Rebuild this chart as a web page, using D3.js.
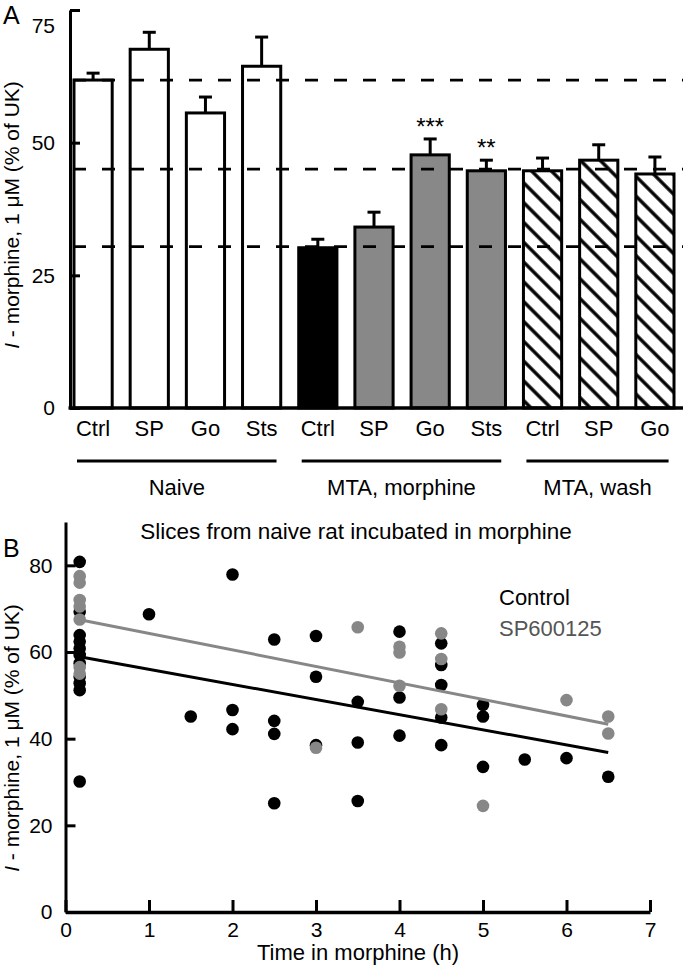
<!DOCTYPE html>
<html><head><meta charset="utf-8">
<script src="https://cdn.jsdelivr.net/npm/d3@7"></script>
<style>
body{margin:0;background:#fff;}
text{font-family:"Liberation Sans",Arial,Helvetica,sans-serif;fill:#000;}
</style>
</head><body>
<svg id="c" width="690" height="969" xmlns="http://www.w3.org/2000/svg"></svg>
<script>
// ---------- Panel A data ----------
const barLabels = ["Ctrl","SP","Go","Sts","Ctrl","SP","Go","Sts","Ctrl","SP","Go"];
const barValues = [61.8,67.6,55.6,64.4,30.2,34.1,47.7,44.7,44.7,46.7,44.1];
const barErrors = [1.3,3.2,3.0,5.5,1.6,2.8,3.0,2.0,2.4,2.9,3.2];
const barFills  = ["white","white","white","white","black","gray","gray","gray","hatch","hatch","hatch"];
const significance = ["","","","","","","***","**","","",""];
const groupNames = ["Naive","MTA, morphine","MTA, wash"];
const groupFirst = [0,4,8];
const groupLast  = [3,7,10];
const refLevels = [61.8,45.0,30.4];
const yTicksA = [0,25,50,75];

// ---------- Panel B data ----------
const controlT = [0.17,0.17,0.17,0.17,0.17,0.17,0.17,0.17,0.17,0.17,0.17,
  1,1.5,2,2,2,2.5,2.5,2.5,2.5,3,3,3,3.5,3.5,3.5,4,4,4,4.5,4.5,4.5,4.5,4.5,5,5,5,5.5,6,6.5];
const controlV = [80.8,69.3,63.9,62.4,60.8,59.3,57.4,54.3,52.8,51.2,30.1,
  68.7,45.1,77.9,46.6,42.2,62.9,44.1,41.1,25.1,63.7,54.3,38.5,48.5,39.1,25.6,64.7,49.5,40.7,62.0,57.0,52.4,44.9,38.5,47.8,45.1,33.5,35.2,35.5,31.2];
const spT = [0.17,0.17,0.17,0.17,0.17,0.17,0.17,3,3.5,4,4,4,4.5,4.5,4.5,5,6,6.5,6.5];
const spV = [77.5,76.0,72.0,70.5,67.5,56.5,55.0,37.9,65.7,61.2,59.9,52.2,64.3,58.4,46.8,24.5,48.9,45.1,41.2];
// fitted regression lines (intercept, slope)
const controlFit = [59.5,-3.49];
const spFit = [68.1,-3.81];
const fitRange = [0.17,6.5];
const xTicksB = [0,1,2,3,4,5,6,7];
const yTicksB = [0,20,40,60,80];

const GRAY = "#878787";
const svg = d3.select("#c");

// hatch pattern
const defs = svg.append("defs");
const pat = defs.append("pattern").attr("id","hatch").attr("patternUnits","userSpaceOnUse")
  .attr("width",14).attr("height",14).attr("patternTransform","rotate(-45)");
pat.append("rect").attr("width",14).attr("height",14).attr("fill","white");
pat.append("line").attr("x1",3).attr("y1",-2).attr("x2",3).attr("y2",16).attr("stroke","black").attr("stroke-width",3.4);

function fillOf(f){ return f==="hatch" ? "url(#hatch)" : f==="gray" ? "#888" : f; }

// ================= Panel A =================
const xA = d3.scaleBand().domain(d3.range(barValues.length)).range([65,683]).paddingInner(0.32).paddingOuter(0.16);
const yA = d3.scaleLinear().domain([0,75]).range([408,10]);
const gA = svg.append("g");

// error bars
gA.selectAll(".err").data(barValues).enter().append("g").each(function(v,i){
  const cx = xA(i)+xA.bandwidth()/2, g=d3.select(this);
  g.append("line").attr("x1",cx).attr("x2",cx).attr("y1",yA(v)).attr("y2",yA(v+barErrors[i])).attr("stroke","#000").attr("stroke-width",3);
  g.append("line").attr("x1",cx-6.5).attr("x2",cx+6.5).attr("y1",yA(v+barErrors[i])).attr("y2",yA(v+barErrors[i])).attr("stroke","#000").attr("stroke-width",3);
});
// bars
gA.selectAll(".bar").data(barValues).enter().append("rect")
  .attr("x",(d,i)=>xA(i)).attr("width",xA.bandwidth())
  .attr("y",d=>yA(d)).attr("height",d=>yA(0)-yA(d))
  .attr("fill",(d,i)=>fillOf(barFills[i])).attr("stroke","#000").attr("stroke-width",3);
// reference dashed lines
gA.selectAll(".ref").data(refLevels).enter().append("line")
  .attr("x1",73).attr("x2",683).attr("y1",d=>yA(d)).attr("y2",d=>yA(d))
  .attr("stroke","#000").attr("stroke-width",2.8).attr("stroke-dasharray","13,16");
// significance
gA.selectAll(".sig").data(barValues).enter().append("text")
  .attr("x",(d,i)=>xA(i)+xA.bandwidth()/2).attr("y",(d,i)=>yA(d+barErrors[i])-4)
  .attr("text-anchor","middle").attr("font-size",24).text((d,i)=>significance[i]);

// y axis A
const axA = gA.append("g").attr("transform","translate(70,0)")
  .call(d3.axisLeft(yA).tickValues(yTicksA).tickSizeInner(-10).tickSizeOuter(0).tickPadding(15));
axA.select(".domain").attr("stroke-width",3);
axA.selectAll(".tick line").attr("stroke-width",3);
axA.selectAll(".tick text").attr("font-size",21).attr("font-family",null)
  .attr("dy",d=>d===75?"1.05em":"0.32em");
// x baseline
gA.append("line").attr("x1",68.5).attr("x2",683).attr("y1",yA(0)).attr("y2",yA(0)).attr("stroke","#000").attr("stroke-width",3.5);

// category labels
const catText = gA.selectAll(".cat").data(barLabels).enter().append("text")
  .attr("x",(d,i)=>xA(i)+xA.bandwidth()/2).attr("y",436).attr("text-anchor","middle").attr("font-size",22).text(d=>d);
const catNodes = catText.nodes();
groupNames.forEach((name,k)=>{
  const b1 = catNodes[groupFirst[k]].getBBox(), b2 = catNodes[groupLast[k]].getBBox();
  const x1 = b1.x+1, x2 = b2.x+b2.width-1;
  gA.append("line").attr("x1",x1).attr("x2",x2).attr("y1",461).attr("y2",461).attr("stroke","#000").attr("stroke-width",3);
  gA.append("text").attr("x",(x1+x2)/2).attr("y",495).attr("text-anchor","middle").attr("font-size",22).text(name);
});
// y label
function yLabel(cx,cy){
  const t = svg.append("text").attr("transform",`translate(${cx},${cy}) rotate(-90)`).attr("text-anchor","middle").attr("font-size",21);
  t.append("tspan").attr("font-style","italic").text("I");
  t.append("tspan").text(" - morphine, 1 \u03BCM (% of UK)");
}
yLabel(19,215);
svg.append("text").attr("x",3).attr("y",24).attr("font-size",25).text("A");

// ================= Panel B =================
const xB = d3.scaleLinear().domain([0,7]).range([65.5,650]);
const yB = d3.scaleLinear().domain([0,90]).range([912,522]);
const gB = svg.append("g");

const axYB = gB.append("g").attr("transform","translate(65.5,0)")
  .call(d3.axisLeft(yB).tickValues(yTicksB).tickSizeInner(-10).tickSizeOuter(0).tickPadding(13));
axYB.select(".domain").attr("stroke-width",3);
axYB.selectAll(".tick line").attr("stroke-width",3);
axYB.selectAll(".tick text").attr("font-size",21).attr("font-family",null);

const axXB = gB.append("g").attr("transform","translate(0,912)")
  .call(d3.axisBottom(xB).tickValues(xTicksB).tickSizeInner(-12).tickSizeOuter(0).tickPadding(10).tickFormat(d3.format("d")));
axXB.select(".domain").attr("stroke-width",3.5);
axXB.selectAll(".tick line").attr("stroke-width",3);
axXB.selectAll(".tick text").attr("font-size",21).attr("font-family",null);

// points
gB.selectAll(".pc").data(controlV).enter().append("circle")
  .attr("cx",(d,i)=>xB(controlT[i])).attr("cy",d=>yB(d)).attr("r",6.3).attr("fill","#000");
gB.selectAll(".ps").data(spV).enter().append("circle")
  .attr("cx",(d,i)=>xB(spT[i])).attr("cy",d=>yB(d)).attr("r",6.3).attr("fill",GRAY);
// fit lines
const line = d3.line().x(d=>xB(d[0])).y(d=>yB(d[1]));
[[controlFit,"#000"],[spFit,GRAY]].forEach(([f,c])=>{
  gB.append("path").datum(fitRange.map(t=>[t,f[0]+f[1]*t])).attr("d",line)
    .attr("fill","none").attr("stroke",c).attr("stroke-width",3);
});

svg.append("text").attr("x",356).attr("y",539).attr("text-anchor","middle").attr("font-size",22.5).text("Slices from naive rat incubated in morphine");
svg.append("text").attr("x",499).attr("y",605).attr("font-size",22).text("Control");
svg.append("text").attr("x",499).attr("y",636).attr("font-size",22).style("fill","#555").text("SP600125");
svg.append("text").attr("x",358).attr("y",960).attr("text-anchor","middle").attr("font-size",22).text("Time in morphine (h)");
yLabel(19,738);
svg.append("text").attr("x",3).attr("y",557).attr("font-size",25).text("B");
</script>
</body></html>
